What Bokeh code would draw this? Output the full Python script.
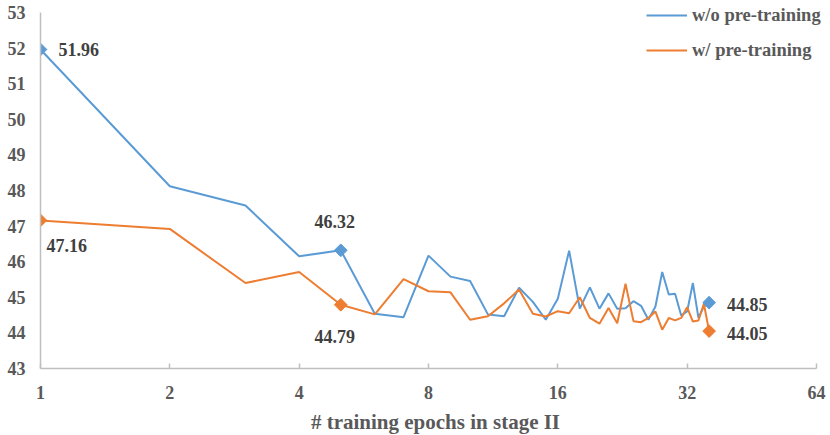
import math
from bokeh.plotting import figure
from bokeh.models import (FixedTicker, BasicTickFormatter, Range1d, Legend, LegendItem)
from bokeh.core.properties import value
from bokeh.embed import file_html
from bokeh.resources import INLINE

# ---- data ----
epochs = [1, 2, 3, 4, 5, 6, 7, 8, 9, 10, 11, 12, 13, 14, 15, 16, 17, 18,
          19, 20, 21, 22, 23, 24, 25, 26, 27, 28, 29, 30, 31, 32, 33, 34, 35, 36]
wo_pretrain = [51.96, 48.12, 47.58, 46.15, 46.32, 44.54, 44.44, 46.17, 45.58, 45.46,
               44.52, 44.47, 45.27, 44.87, 44.37, 44.96, 46.31, 44.68, 45.28, 44.68,
               45.11, 44.68, 44.69, 44.89, 44.76, 44.37, 44.74, 45.71, 45.08, 45.10,
               44.49, 44.60, 45.40, 44.42, 44.74, 44.85]
w_pretrain = [47.16, 46.92, 45.40, 45.71, 44.79, 44.52, 45.51, 45.17, 45.14, 44.37,
              44.47, 44.83, 45.22, 44.54, 44.46, 44.61, 44.55, 45.00, 44.42, 44.26,
              44.70, 44.27, 45.38, 44.33, 44.30, 44.42, 44.60, 44.09, 44.42, 44.35,
              44.42, 44.72, 44.32, 44.35, 44.82, 44.05]
marked_epochs = [1, 5, 36]
x_ticks = [1, 2, 4, 8, 16, 32, 64]
y_ticks = [43, 44, 45, 46, 47, 48, 49, 50, 51, 52, 53]
series_names = ["w/o pre-training", "w/ pre-training"]
x_title = "# training epochs in stage II"

BLUE = "#5B9BD5"
ORANGE = "#ED7D31"
FONT = "Liberation Serif"
AXIS_GRAY = "#BFBFBF"
TICK_TEXT = "#595959"
LABEL_TEXT = "#404040"

# frame extends a little past 64 (right) and 53 (top) so the legend has room;
# the axis lines stop at the last ticks
p = figure(frame_width=790, frame_height=366, output_backend="svg", toolbar_location=None,
           x_axis_type="log", x_range=Range1d(1, 69.0), y_range=Range1d(43, 53.28),
           min_border_left=40, min_border_right=0, min_border_top=2, min_border_bottom=65)
p.outline_line_color = None
p.xgrid.grid_line_color = None
p.ygrid.grid_line_color = None
p.background_fill_color = "white"
p.border_fill_color = "white"

# axes
p.xaxis.ticker = FixedTicker(ticks=x_ticks, minor_ticks=[])
p.xaxis.formatter = BasicTickFormatter()
p.xaxis.bounds = (x_ticks[0], x_ticks[-1])
p.yaxis.ticker = FixedTicker(ticks=y_ticks, minor_ticks=[])
p.yaxis.bounds = (y_ticks[0], y_ticks[-1])
for ax in (p.xaxis, p.yaxis):
    ax.axis_line_color = AXIS_GRAY
    ax.axis_line_width = 1.5
    ax.major_tick_line_color = AXIS_GRAY
    ax.major_tick_line_width = 1.5
    ax.minor_tick_line_color = None
    ax.major_label_text_font = FONT
    ax.major_label_text_font_style = "bold"
    ax.major_label_text_font_size = "18px"
    ax.major_label_text_color = TICK_TEXT
p.xaxis.major_tick_in = 5
p.xaxis.major_tick_out = 0
p.yaxis.major_tick_in = 0
p.yaxis.major_tick_out = 0
p.xaxis.major_label_standoff = 17
p.yaxis.major_label_standoff = 15
p.xaxis.axis_label = x_title
p.xaxis.axis_label_text_font = FONT
p.xaxis.axis_label_text_font_style = "bold"
p.xaxis.axis_label_text_font_size = "21px"
p.xaxis.axis_label_text_color = TICK_TEXT
p.xaxis.axis_label_standoff = 8

# lines
l1 = p.line(epochs, wo_pretrain, line_color=BLUE, line_width=2)
l2 = p.line(epochs, w_pretrain, line_color=ORANGE, line_width=2)

# markers at selected epochs
for vals, color in ((wo_pretrain, BLUE), (w_pretrain, ORANGE)):
    mx = [e for e in marked_epochs]
    my = [vals[epochs.index(e)] for e in marked_epochs]
    p.scatter(mx, my, marker="square", angle=math.pi / 4, size=9,
              fill_color=color, line_color=color)

# data labels
def label(x, y, dx, dy, align, baseline="middle"):
    p.text([x], [y], text=[f"{y:.2f}"], x_offset=dx, y_offset=dy,
           text_font=value(FONT), text_font_style="bold", text_font_size="18px",
           text_color=LABEL_TEXT, text_align=align, text_baseline=baseline)

i1, i5, i36 = epochs.index(1), epochs.index(5), epochs.index(36)
label(epochs[i1], wo_pretrain[i1], 18, 0, "left")
label(epochs[i1], w_pretrain[i1], 6, 25, "left")
label(epochs[i5], wo_pretrain[i5], -6, -29, "center")
label(epochs[i5], w_pretrain[i5], -6, 32, "center")
label(epochs[i36], wo_pretrain[i36], 18, 2, "left")
label(epochs[i36], w_pretrain[i36], 18, 2, "left")

legend = Legend(items=[LegendItem(label=series_names[0], renderers=[l1]),
                       LegendItem(label=series_names[1], renderers=[l2])],
                location=(606, 307), padding=0, margin=0, spacing=13,
                glyph_width=41, glyph_height=22, label_height=22, label_standoff=5,
                label_text_font=FONT, label_text_font_style="bold",
                label_text_font_size="18.5px", label_text_color=TICK_TEXT,
                border_line_color=None, background_fill_alpha=0)
p.add_layout(legend, "center")

open("out.html", "w").write(file_html(p, INLINE))
